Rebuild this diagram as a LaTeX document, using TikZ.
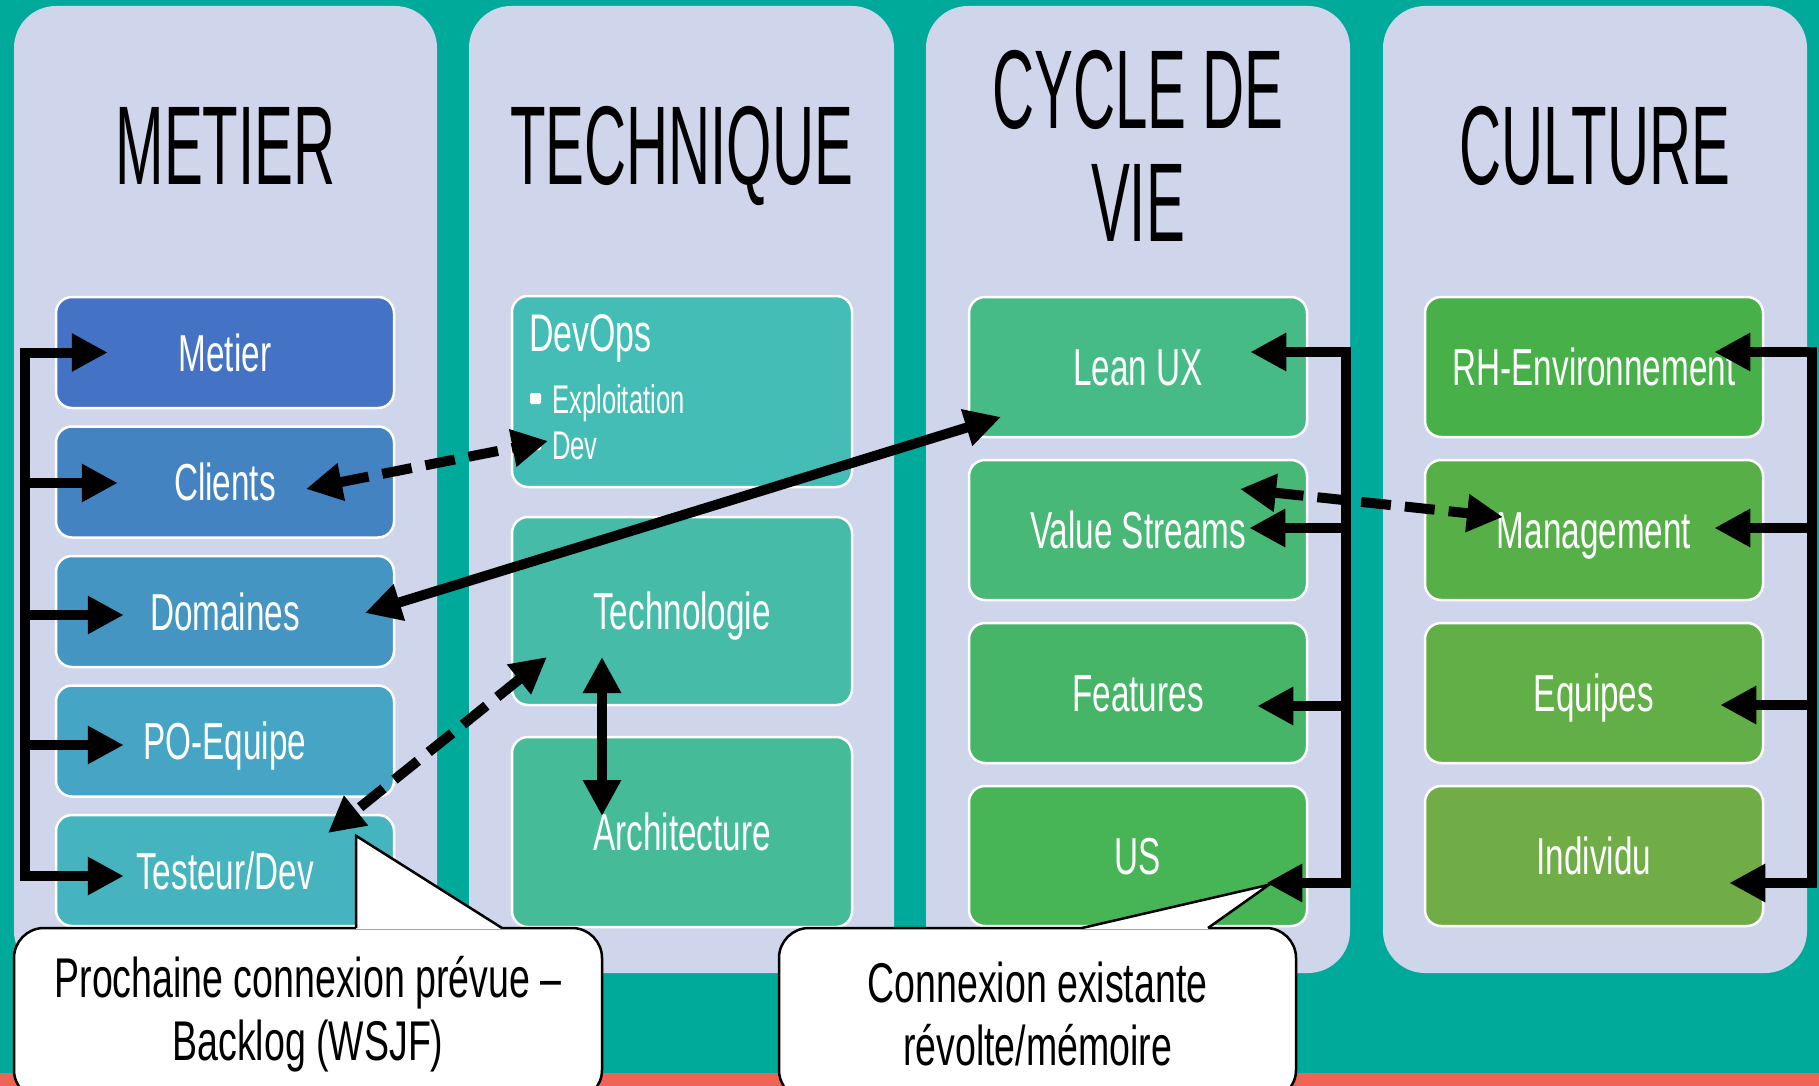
\documentclass[tikz,border=0pt]{standalone}
\usepackage{fontspec}
\newfontfamily\bodyfont{Liberation Sans}[FakeStretch=0.64]
\newfontfamily\calloutfont{Liberation Sans}[FakeStretch=0.67]
\newfontfamily\titlefont{Liberation Sans}[FakeStretch=0.52]
\usetikzlibrary{arrows.meta,calc}
\definecolor{bgteal}{RGB}{0,170,155}
\definecolor{bandred}{RGB}{240,100,85}
\definecolor{panelc}{RGB}{207,213,234}
\definecolor{cMetier}{RGB}{68,114,196}
\definecolor{cClients}{RGB}{67,131,193}
\definecolor{cDomaines}{RGB}{69,149,194}
\definecolor{cPO}{RGB}{70,165,196}
\definecolor{cTesteur}{RGB}{69,180,190}
\definecolor{cDevOps}{RGB}{69,189,183}
\definecolor{cTechno}{RGB}{69,187,168}
\definecolor{cArchi}{RGB}{69,187,152}
\definecolor{cLean}{RGB}{70,187,136}
\definecolor{cVS}{RGB}{71,184,118}
\definecolor{cFeat}{RGB}{71,181,103}
\definecolor{cUS}{RGB}{71,180,86}
\definecolor{cRH}{RGB}{72,176,72}
\definecolor{cMgmt}{RGB}{86,176,71}
\definecolor{cEq}{RGB}{98,175,71}
\definecolor{cInd}{RGB}{112,173,71}
\begin{document}
\begin{tikzpicture}[x=1pt,y=-1pt,
  panel/.style={fill=panelc, rounded corners=42pt},
  cbox/.style={draw=white, line width=2.5pt, rounded corners=16pt, text=white,
    font=\bodyfont\fontsize{52}{60}\selectfont, text height=37pt, text depth=0pt,
    inner sep=0pt, align=center},
  wtext/.style={text=white, inner sep=0pt, anchor=base west},
  title/.style={font=\titlefont\fontsize{112}{112}\selectfont, anchor=base, inner sep=0pt, text=black},
  arr/.style={line width=10pt, -{Triangle[length=36pt,width=36pt]}},
  darr/.style={line width=10pt, {Triangle[length=36pt,width=36pt]}-{Triangle[length=36pt,width=36pt]}},
  dashedline/.style={dash pattern=on 30pt off 14pt},
  bar/.style={line width=10pt, line cap=rect},
  callout/.style={draw=black, fill=white, line width=2.5pt, rounded corners=30pt,
    align=center, font=\calloutfont\fontsize{56}{63}\selectfont, inner sep=0pt},
  pointer/.style={draw=black, line width=2.5pt, line join=miter}]
\useasboundingbox (0,0) rectangle (1819,1086);
\fill[bgteal] (0,0) rectangle (1819,1086);
\fill[bandred] (0,1073) rectangle (1819,1086);
% panels
\fill[panel] (14,6) rectangle (437,973);
\fill[panel] (469,6) rectangle (894,973);
\fill[panel] (926,6) rectangle (1350,973);
\fill[panel] (1383,6) rectangle (1807,973);
% titles
\node[title] (tMetier) at (225.5,185) {METIER};
\node[title] (tTech) at (681.5,185) {TECHNIQUE};
\node[title] (tCycle) at (1138,129) {CYCLE DE};
\node[title] (tVie) at (1138,241) {VIE};
\node[title] (tCult) at (1595,185) {CULTURE};
% column 1
\node[cbox, fill=cMetier, minimum width=338pt, minimum height=111pt] (metier) at (225,352.5) {Metier};
\node[cbox, fill=cClients, minimum width=338pt, minimum height=111pt] (clients) at (225,482) {Clients};
\node[cbox, fill=cDomaines, minimum width=338pt, minimum height=111pt] (domaines) at (225,611.5) {Domaines};
\node[cbox, fill=cPO, minimum width=338pt, minimum height=111pt] (po) at (225,741) {PO-Equipe};
\node[cbox, fill=cTesteur, minimum width=338pt, minimum height=111pt] (testeur) at (225,870.5) {Testeur/Dev};
% column 2
\node[cbox, fill=cDevOps, minimum width=340pt, minimum height=191pt] (devops) at (682,391.5) {};
\node[wtext, font=\bodyfont\fontsize{53}{60}\selectfont] (devopsT) at (529,351) {DevOps};
\fill[white, rounded corners=1.5pt] (530,393) rectangle (541,404);
\fill[white, rounded corners=1.5pt] (530,439) rectangle (541,450);
\node[wtext, font=\bodyfont\fontsize{40}{46}\selectfont] (expl) at (552,413) {Exploitation};
\node[wtext, font=\bodyfont\fontsize{40}{46}\selectfont] (devitem) at (552,459) {Dev};
\node[cbox, fill=cTechno, minimum width=340pt, minimum height=188pt] (techno) at (682,611) {Technologie};
\node[cbox, fill=cArchi, minimum width=340pt, minimum height=190pt] (archi) at (682,832) {Architecture};
% column 3
\node[cbox, fill=cLean, minimum width=338pt, minimum height=140pt] (leanux) at (1138,367) {Lean UX};
\node[cbox, fill=cVS, minimum width=338pt, minimum height=140pt] (vs) at (1138,530) {Value Streams};
\node[cbox, fill=cFeat, minimum width=338pt, minimum height=140pt] (feat) at (1138,693) {Features};
\node[cbox, fill=cUS, minimum width=338pt, minimum height=140pt] (us) at (1138,856) {US};
% column 4
\node[cbox, fill=cRH, minimum width=338pt, minimum height=140pt] (rh) at (1594,367) {RH-Environnement};
\node[cbox, fill=cMgmt, minimum width=338pt, minimum height=140pt] (mgmt) at (1594,530) {Management};
\node[cbox, fill=cEq, minimum width=338pt, minimum height=140pt] (equipes) at (1594,693) {Equipes};
\node[cbox, fill=cInd, minimum width=338pt, minimum height=140pt] (individu) at (1594,856) {Individu};
% bracket column 1
\draw[bar] ($(metier.west)+(-30,0)$) -- ($(testeur.west)+(-30,5.5)$);
\draw[arr] ($(metier.west)+(-30,0)$) -- ($(metier.west)+(53,0)$);
\draw[arr] ($(clients.west)+(-30,1)$) -- ($(clients.west)+(63,1)$);
\draw[arr] ($(domaines.west)+(-30,3.5)$) -- ($(domaines.west)+(69,3.5)$);
\draw[arr] ($(po.west)+(-30,4)$) -- ($(po.west)+(69,4)$);
\draw[arr] ($(testeur.west)+(-30,5.5)$) -- ($(testeur.west)+(69,5.5)$);
% bracket column 3
\draw[bar] ($(leanux.east)+(38,-15)$) -- ($(us.east)+(38,27)$);
\draw[arr] ($(leanux.east)+(38,-15)$) -- ($(leanux.east)+(-58,-15)$);
\draw[arr] ($(vs.east)+(38,-2)$) -- ($(vs.east)+(-59,-2)$);
\draw[arr] ($(feat.east)+(38,13)$) -- ($(feat.east)+(-51,13)$);
\draw[arr] ($(us.east)+(38,27)$) -- ($(us.east)+(-42,27)$);
% bracket column 4
\draw[bar] ($(rh.east)+(48,-15)$) -- ($(individu.east)+(48,27)$);
\draw[arr] ($(rh.east)+(48,-15)$) -- ($(rh.east)+(-50,-15)$);
\draw[arr] ($(mgmt.east)+(48,-2)$) -- ($(mgmt.east)+(-50,-2)$);
\draw[arr] ($(equipes.east)+(48,12)$) -- ($(equipes.east)+(-44,12)$);
\draw[arr] ($(individu.east)+(48,27)$) -- ($(individu.east)+(-35,27)$);
% cross links
\draw[darr, dashedline] ($(clients.center)+(81,7)$) -- ($(devitem.base west)+(-4,-18)$);
\draw[darr] ($(domaines.center)+(140,1.5)$) -- ($(leanux.center)+(-137,50)$);
\draw[darr, dashedline] ($(techno.center)+(-135,46)$) -- ($(testeur.center)+(103,-37.5)$);
\draw[darr] ($(techno.center)+(-80,46)$) -- ($(archi.center)+(-80,-16)$);
\draw[darr, dashedline] ($(vs.center)+(102,-41)$) -- ($(mgmt.center)+(-91,-13)$);
% callouts
\node[callout, minimum width=588pt, minimum height=172pt] (c1) at (308,1014) {Prochaine connexion prévue –\\Backlog (WSJF)};
\fill[white] ($(c1.north)+(48,2)$) -- ($(c1.north)+(48,-91)$) -- ($(c1.north)+(194,2)$) -- cycle;
\draw[pointer] ($(c1.north)+(48,1.25)$) -- ($(c1.north)+(48,-91)$) -- ($(c1.north)+(194,1.25)$);
\node[callout, minimum width=517pt, minimum height=172pt] (c2) at (1037.5,1014) {Connexion existante\\révolte/mémoire};
\fill[white] ($(c2.north)+(44.5,2)$) -- ($(c2.north)+(231.5,-42)$) -- ($(c2.north)+(170.5,2)$) -- cycle;
\draw[pointer] ($(c2.north)+(44.5,1.25)$) -- ($(c2.north)+(231.5,-42)$) -- ($(c2.north)+(170.5,1.25)$);
\end{tikzpicture}
\end{document}
